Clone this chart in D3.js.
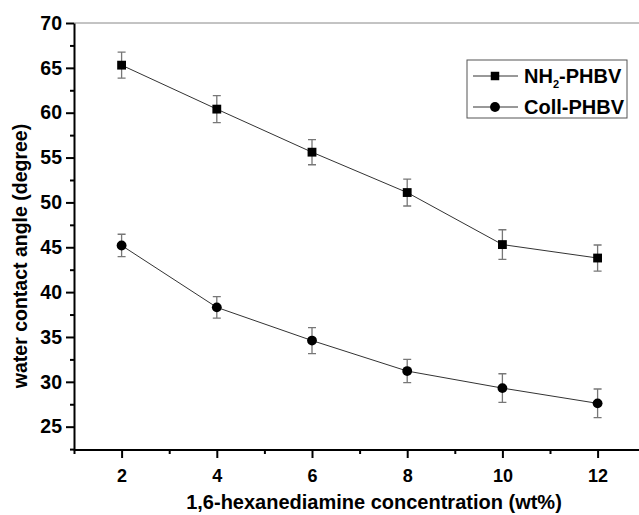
<!DOCTYPE html>
<html>
<head>
<meta charset="utf-8">
<script src="https://cdn.jsdelivr.net/npm/d3@7"></script>
<style>
  body { margin: 0; background: #fff; }
  text { font-family: "Liberation Sans", Arial, sans-serif; font-weight: bold; }
</style>
</head>
<body>
<div id="chart"></div>
<script>
const concentrations = [2, 4, 6, 8, 10, 12];
const nh2Values = [65.3, 60.4, 55.6, 51.1, 45.3, 43.8];
const nh2Errors = [1.45, 1.5, 1.4, 1.5, 1.65, 1.45];
const collValues = [45.2, 38.3, 34.6, 31.2, 29.3, 27.6];
const collErrors = [1.25, 1.2, 1.45, 1.3, 1.6, 1.6];
const xTicks = [2, 4, 6, 8, 10, 12];
const yTicks = [25, 30, 35, 40, 45, 50, 55, 60, 65, 70];

const width = 639;
const height = 515;
const plotLeft = 74;
const plotTop = 23;
const plotBottom = 450;

const svg = (
    d3.select("#chart")
    .append("svg")
    .attr("width", width)
    .attr("height", height)
);

const xScale = d3.scaleLinear().domain([1, 13]).range([plotLeft, plotLeft + 12 * 47.6]);
const yScale = d3.scaleLinear().domain([22.4, 70]).range([plotBottom, plotTop]);

// top frame line
svg.append("line")
    .attr("x1", plotLeft).attr("x2", width)
    .attr("y1", plotTop).attr("y2", plotTop)
    .attr("stroke", "#888").attr("stroke-width", 1);

// minor ticks
const xMinor = d3.range(1, 14, 1).filter((d) => !xTicks.includes(d));
svg.append("g")
    .attr("transform", `translate(0, ${plotBottom})`)
    .call(d3.axisBottom(xScale).tickValues(xMinor).tickSize(4).tickFormat(""))
    .call((g) => g.select(".domain").remove())
    .selectAll("line").attr("stroke-width", 2);
const yMinor = d3.range(22.5, 70, 2.5).filter((d) => !yTicks.includes(d));
svg.append("g")
    .attr("transform", `translate(${plotLeft}, 0)`)
    .call(d3.axisLeft(yScale).tickValues(yMinor).tickSize(4).tickFormat(""))
    .call((g) => g.select(".domain").remove())
    .selectAll("line").attr("stroke-width", 2);

const xAxis = svg.append("g")
    .attr("transform", `translate(0, ${plotBottom})`)
    .call(d3.axisBottom(xScale).tickValues(xTicks).tickSize(8).tickSizeOuter(0).tickPadding(11));
xAxis.select(".domain").attr("stroke-width", 2).attr("d", `M${plotLeft},0H${width}`);
xAxis.selectAll("line").attr("stroke-width", 2);
xAxis.selectAll("text").attr("font-size", 18).attr("fill", "#000");

const yAxis = svg.append("g")
    .attr("transform", `translate(${plotLeft}, 0)`)
    .call(d3.axisLeft(yScale).tickValues(yTicks).tickSize(8).tickSizeOuter(0).tickPadding(4));
yAxis.select(".domain").attr("stroke-width", 2);
yAxis.selectAll("line").attr("stroke-width", 2);
yAxis.selectAll("text").attr("font-size", 19.5).attr("fill", "#000");

svg.append("text")
    .attr("x", 374).attr("y", 509)
    .attr("text-anchor", "middle")
    .attr("font-size", 20)
    .text("1,6-hexanediamine concentration (wt%)");

svg.append("text")
    .attr("transform", `translate(27, 256) rotate(-90)`)
    .attr("text-anchor", "middle")
    .attr("font-size", 19.5)
    .text("water contact angle (degree)");

function drawSeries(values, errors, shape) {
    const g = svg.append("g");
    const pts = concentrations.map((c, i) => [c, values[i], errors[i]]);
    g.append("path")
        .datum(pts)
        .attr("fill", "none")
        .attr("stroke", "#333")
        .attr("stroke-width", 1)
        .attr("d", d3.line().x((d) => xScale(d[0])).y((d) => yScale(d[1])));
    for (const [c, v, e] of pts) {
        const x = xScale(c);
        g.append("path")
            .attr("fill", "none")
            .attr("stroke", "#777")
            .attr("stroke-width", 1.3)
            .attr("d", `M${x - 4},${yScale(v + e)}H${x + 4}M${x},${yScale(v + e)}V${yScale(v - e)}M${x - 4},${yScale(v - e)}H${x + 4}`);
    }
    g.selectAll(".mark")
        .data(pts)
        .join("path")
        .attr("transform", (d) => `translate(${xScale(d[0])}, ${yScale(d[1])})`)
        .attr("d", d3.symbol().type(shape).size(shape === d3.symbolSquare ? 78 : 76))
        .attr("fill", "#000");
}

drawSeries(nh2Values, nh2Errors, d3.symbolSquare);
drawSeries(collValues, collErrors, d3.symbolCircle);

// legend
const legend = svg.append("g").attr("transform", "translate(467, 60)");
legend.append("rect")
    .attr("width", 160).attr("height", 58)
    .attr("fill", "#fff").attr("stroke", "#555").attr("stroke-width", 1);
const legendItems = [
    { label: "NH", sub: "2", rest: "-PHBV", shape: d3.symbolSquare, y: 16 },
    { label: "Coll-PHBV", shape: d3.symbolCircle, y: 47 },
];
for (const item of legendItems) {
    legend.append("line")
        .attr("x1", 6).attr("x2", 51)
        .attr("y1", item.y).attr("y2", item.y)
        .attr("stroke", "#333").attr("stroke-width", 1);
    legend.append("path")
        .attr("transform", `translate(28, ${item.y})`)
        .attr("d", d3.symbol().type(item.shape).size(item.shape === d3.symbolSquare ? 72 : 76))
        .attr("fill", "#000");
    const t = legend.append("text")
        .attr("x", 57).attr("y", item.y + 7)
        .attr("font-size", 20);
    t.append("tspan").text(item.label);
    if (item.sub) {
        t.append("tspan").attr("font-size", 11).attr("dy", 5).text(item.sub);
        t.append("tspan").attr("dy", -5).text(item.rest);
    }
}
</script>
</body>
</html>
